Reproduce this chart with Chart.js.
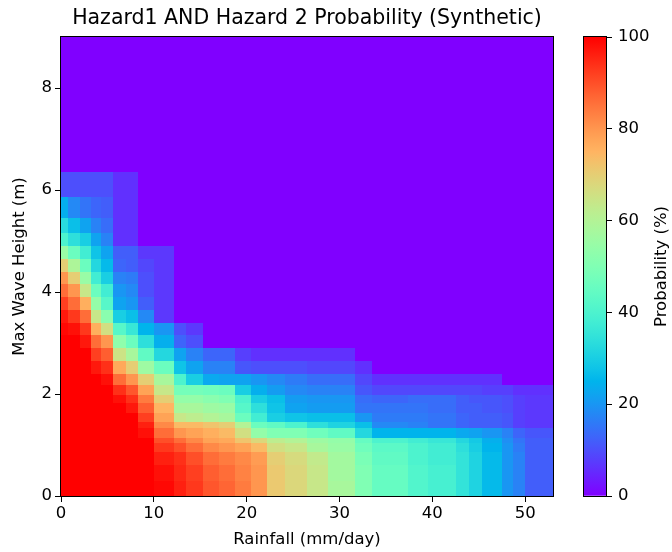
<!DOCTYPE html>
<html>
<head>
    <meta charset="UTF-8" />
    <title>Hazard1 AND Hazard 2 Probability (Synthetic)</title>
    <!-- chart.js library -->
    <script src="https://cdn.jsdelivr.net/npm/chart.js@4.4.9/dist/chart.umd.min.js"></script>
    <style>
        body { margin: 0; background: #fff; }
        #wrap { position: relative; width: 672px; height: 552px; }
        #wrap canvas { position: absolute; left: 0; top: 0; }
    </style>
</head>
<body>
<div id="wrap">
    <canvas id="chart" width="672" height="552"></canvas>
    <canvas id="cbar" width="672" height="552"></canvas>
</div>
<script>
    // Rainfall bin edges (mm/day) - one more than cells per row
    const rainEdges = [0, 0.8, 2, 3.2, 4.3, 5.6, 7, 8.3, 10, 12.2, 13.5, 15.3, 17, 18.7, 20.5, 22.2,
        24.1, 26.5, 28.8, 31.7, 33.5, 37.4, 39.5, 42.5, 44, 45.4, 47.5, 48.7, 50, 53];
    // Wave height bin edges (m)
    const heightEdges = [0, 0.3, 0.6, 0.86, 1.04, 1.14, 1.33, 1.45, 1.63, 1.82, 1.98, 2.18, 2.4, 2.65,
        2.9, 3.15, 3.4, 3.65, 3.9, 4.15, 4.4, 4.65, 4.9, 5.15, 5.45, 5.86, 6.35, 9];

    // Probability (%) per cell, bottom row first
    const probRows = [
        [100,100,100,100,100,100,100,100,99,96,93,89,87,84,80,71,68,64,58,50,45,41,39,35,31,26,20,17,12],
        [100,100,100,100,100,100,100,100,98,95,92,88,86,83,80,71,68,64,57,50,45,41,39,35,31,26,20,17,12],
        [100,100,100,100,100,100,100,100,96,94,90,86,84,82,79,70,67,63,57,49,44,40,38,35,31,26,20,17,12],
        [100,100,100,100,100,100,100,100,93,90,86,82,80,78,74,66,64,58,55,47,43,40,38,34,30,25,20,16,12],
        [100,100,100,100,100,100,100,100,90,86,82,78,77,72,68,62,60,56,54,45,40,38,36,32,29,24,19,15,12],
        [100,100,100,100,100,100,100,98,86,80,78,76,74,66,54,50,50,47,44,32,25,25,25,23,22,20,17,13,11],
        [100,100,100,100,100,100,100,96,82,74,74,72,70,60,46,44,40,34,31,27,18,17,15,13,12,12,11,8,7],
        [100,100,100,100,100,100,100,92,78,64,62,60,58,46,38,30,28,27,27,20,16,16,15,13,12,12,11,8,7],
        [100,100,100,100,100,100,97,88,75,58,58,56,55,42,34,28,22,21,21,15,15,15,14,12,12,11,10,8,7],
        [100,100,100,100,100,98,94,84,70,54,54,52,50,40,30,27,21,20,20,14,13,14,14,12,11,11,10,8,7],
        [100,100,100,100,100,94,89,78,64,48,48,47,46,30,24,21,18,17,17,11,9,9,9,9,9,8,8,6,6],
        [100,100,100,100,98,86,80,70,58,40,30,23,22,22,20,18,16,14,14,9,6,6,6,6,6,6,0,0,0],
        [100,100,100,97,94,77,70,56,46,28,22,17,17,11,10,10,10,9,9,6,0,0,0,0,0,0,0,0,0],
        [100,100,100,92,88,65,58,44,32,22,17,13,13,8,6,6,6,6,6,0,0,0,0,0,0,0,0,0,0],
        [100,100,97,86,80,53,46,34,24,13,10,0,0,0,0,0,0,0,0,0,0,0,0,0,0,0,0,0,0],
        [99,98,93,76,66,42,36,25,20,10,7,0,0,0,0,0,0,0,0,0,0,0,0,0,0,0,0,0,0],
        [97,93,86,64,52,30,27,18,7,0,0,0,0,0,0,0,0,0,0,0,0,0,0,0,0,0,0,0,0],
        [92,86,76,54,42,22,20,12,7,0,0,0,0,0,0,0,0,0,0,0,0,0,0,0,0,0,0,0,0],
        [86,80,64,46,38,20,18,10,7,0,0,0,0,0,0,0,0,0,0,0,0,0,0,0,0,0,0,0,0],
        [80,70,55,38,30,17,16,10,7,0,0,0,0,0,0,0,0,0,0,0,0,0,0,0,0,0,0,0,0],
        [70,59,46,32,26,13,12,9,7,0,0,0,0,0,0,0,0,0,0,0,0,0,0,0,0,0,0,0,0],
        [55,46,38,28,22,12,12,7,7,0,0,0,0,0,0,0,0,0,0,0,0,0,0,0,0,0,0,0,0],
        [40,34,30,22,17,6,6,0,0,0,0,0,0,0,0,0,0,0,0,0,0,0,0,0,0,0,0,0,0],
        [33,27,22,17,14,6,6,0,0,0,0,0,0,0,0,0,0,0,0,0,0,0,0,0,0,0,0,0,0],
        [24,18,15,13,12,6,6,0,0,0,0,0,0,0,0,0,0,0,0,0,0,0,0,0,0,0,0,0,0],
        [10,10,10,10,10,6,6,0,0,0,0,0,0,0,0,0,0,0,0,0,0,0,0,0,0,0,0,0,0],
        [0,0,0,0,0,0,0,0,0,0,0,0,0,0,0,0,0,0,0,0,0,0,0,0,0,0,0,0,0]
    ];

    // Tick labels
    const rainTicks = [0, 10, 20, 30, 40, 50];
    const heightTicks = [0, 2, 4, 6, 8];
    const probTicks = [0, 20, 40, 60, 80, 100];

    const FONT = '"DejaVu Sans", sans-serif';

    // matplotlib "rainbow" colormap
    function rainbow(t) {
        t = Math.min(1, Math.max(0, t));
        const clip = v => Math.round(Math.min(1, Math.max(0, v)) * 255);
        const r = clip(Math.abs(2 * t - 0.5));
        const g = clip(Math.sin(Math.PI * t));
        const b = clip(Math.cos(Math.PI * t / 2));
        return `rgb(${r},${g},${b})`;
    }

    function drawFrame(chart) {
        const {ctx, chartArea: a} = chart;
        ctx.save();
        ctx.strokeStyle = '#000';
        ctx.lineWidth = 1;
        ctx.strokeRect(a.left - 0.5, a.top - 0.5, a.right - a.left + 1, a.bottom - a.top + 1);
        ctx.restore();
    }

    // Draws the cells through the chart's own x/y scales
    const heatmapPlugin = {
        id: 'heatmap',
        beforeDatasetsDraw(chart) {
            const {ctx, chartArea: a, scales: {x, y}} = chart;
            ctx.save();
            ctx.beginPath();
            ctx.rect(a.left, a.top, a.right - a.left, a.bottom - a.top);
            ctx.clip();
            probRows.forEach((row, i) => {
                const yb = Math.round(y.getPixelForValue(heightEdges[i]));
                const yt = Math.round(y.getPixelForValue(heightEdges[i + 1]));
                row.forEach((v, j) => {
                    const xl = Math.round(x.getPixelForValue(rainEdges[j]));
                    const xr = Math.round(x.getPixelForValue(rainEdges[j + 1]));
                    ctx.fillStyle = rainbow(v / 100);
                    ctx.fillRect(xl, yt, xr - xl, yb - yt);
                });
            });
            ctx.restore();
        },
        afterDraw(chart) {
            drawFrame(chart);
        }
    };

    const tickFont = {family: FONT, size: 16.5};

    new Chart(document.getElementById('chart'), {
        type: 'scatter',
        data: {datasets: [{data: []}]},
        options: {
            responsive: false,
            animation: false,
            layout: {padding: {left: 0, right: 119, top: 0, bottom: 0}},
            scales: {
                x: {
                    type: 'linear', min: 0, max: 53,
                    afterBuildTicks: s => { s.ticks = rainTicks.map(v => ({value: v})); },
                    afterFit: s => { s.height = 56; },
                    grid: {drawOnChartArea: false, drawTicks: true, tickLength: 6, color: '#000'},
                    border: {display: false},
                    ticks: {color: '#000', font: tickFont, padding: 2, maxRotation: 0},
                    title: {display: true, text: 'Rainfall (mm/day)', color: '#000', font: tickFont,
                        padding: {top: 0, bottom: 2}}
                },
                y: {
                    type: 'linear', min: 0, max: 9,
                    afterBuildTicks: s => { s.ticks = heightTicks.map(v => ({value: v})); },
                    afterFit: s => { s.width = 61; },
                    grid: {drawOnChartArea: false, drawTicks: true, tickLength: 6, color: '#000'},
                    border: {display: false},
                    ticks: {color: '#000', font: tickFont, padding: 3},
                    title: {display: true, text: 'Max Wave Height (m)', color: '#000', font: tickFont,
                        padding: {top: 10, bottom: 0}}
                }
            },
            plugins: {
                legend: {display: false},
                tooltip: {enabled: false},
                title: {
                    display: true,
                    text: 'Hazard1 AND Hazard 2 Probability (Synthetic)',
                    fullSize: false,
                    color: '#000',
                    font: {family: FONT, size: 20.5, weight: 'normal'},
                    padding: {top: 6, bottom: 6.4}
                }
            }
        },
        plugins: [heatmapPlugin]
    });

    // Colorbar
    const cbarPlugin = {
        id: 'cbarFrame',
        afterDraw(chart) {
            drawFrame(chart);
            const {ctx, chartArea: a} = chart;
            ctx.save();
            ctx.fillStyle = '#000';
            ctx.font = '16.5px ' + FONT;
            ctx.textAlign = 'center';
            ctx.textBaseline = 'middle';
            ctx.translate(662, (a.top + a.bottom) / 2);
            ctx.rotate(-Math.PI / 2);
            ctx.fillText('Probability (%)', 0, 0);
            ctx.restore();
        }
    };

    new Chart(document.getElementById('cbar'), {
        type: 'bar',
        data: {
            labels: [''],
            datasets: [{
                data: [[probTicks[0], probTicks[probTicks.length - 1]]],
                backgroundColor: c => {
                    const a = c.chart.chartArea;
                    if (!a) return null;
                    const g = c.chart.ctx.createLinearGradient(0, a.bottom, 0, a.top);
                    for (let k = 0; k <= 40; k++) g.addColorStop(k / 40, rainbow(k / 40));
                    return g;
                },
                borderWidth: 0,
                barPercentage: 1,
                categoryPercentage: 1
            }]
        },
        options: {
            responsive: false,
            animation: false,
            layout: {padding: {left: 584, right: 0, top: 37, bottom: 56}},
            scales: {
                x: {display: false},
                y: {
                    position: 'right', min: 0, max: 100,
                    afterBuildTicks: s => { s.ticks = probTicks.map(v => ({value: v})); },
                    afterFit: s => { s.width = 66; },
                    grid: {drawOnChartArea: false, drawTicks: true, tickLength: 6, color: '#000'},
                    border: {display: false},
                    ticks: {color: '#000', font: tickFont, padding: 6}
                }
            },
            plugins: {legend: {display: false}, tooltip: {enabled: false}}
        },
        plugins: [cbarPlugin]
    });
</script>
</body>
</html>
